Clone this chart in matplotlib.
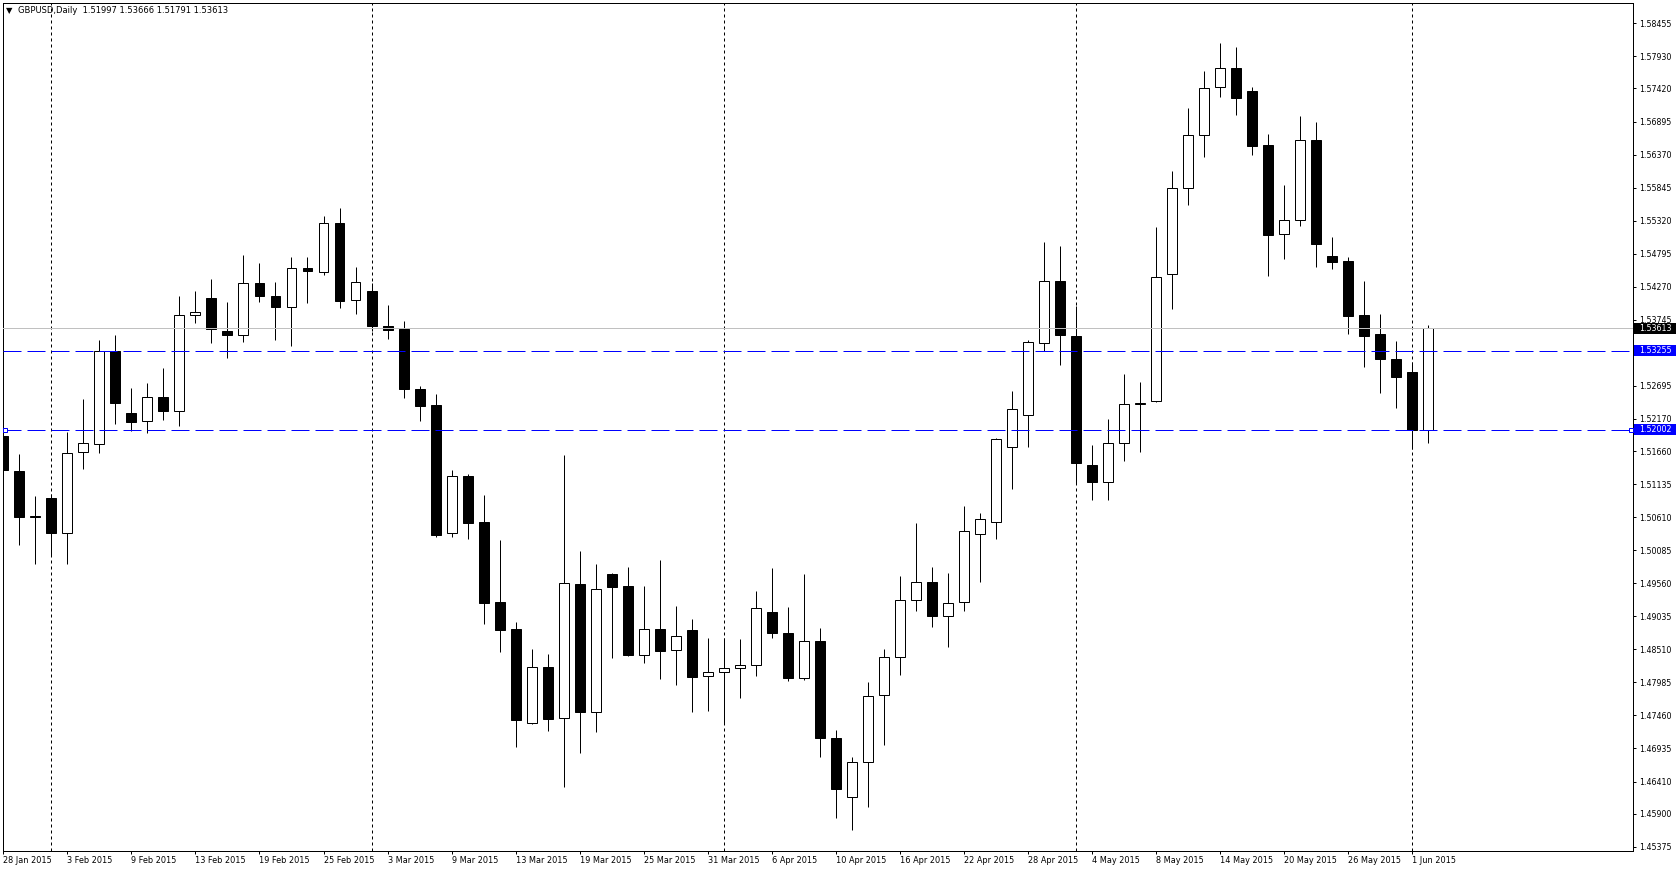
import matplotlib
matplotlib.use("Agg")
import matplotlib.pyplot as plt
import matplotlib.transforms as mtransforms
from matplotlib.patches import Rectangle
import numpy as np
import pandas as pd

# ---------------- data ----------------
dates = pd.bdate_range("2015-01-28", "2015-06-02")

opens = [1.51897, 1.51345, 1.50620, 1.50910, 1.50355, 1.51645, 1.51776, 1.53250, 1.52265, 1.52139,
         1.52518, 1.52297, 1.53825, 1.54085, 1.53575, 1.53505, 1.54330, 1.54120, 1.53955, 1.54565,
         1.54510, 1.55280, 1.54055, 1.54200, 1.53650, 1.53600, 1.52640, 1.52385, 1.50360, 1.51270,
         1.50525, 1.49260, 1.48830, 1.47345, 1.48235, 1.47420, 1.49550, 1.47515, 1.49708, 1.49518,
         1.48423, 1.48839, 1.48502, 1.48823, 1.48091, 1.48154, 1.48218, 1.48265, 1.49107, 1.48776,
         1.48050, 1.48640, 1.47105, 1.46158, 1.46715, 1.47785, 1.48390, 1.49295, 1.49580, 1.49035,
         1.49260, 1.50340, 1.50530, 1.51725, 1.52238, 1.53380, 1.54360, 1.53490, 1.51433, 1.51170,
         1.51791, 1.52415, 1.52460, 1.54480, 1.55845, 1.56685, 1.57445, 1.57750, 1.57380, 1.56530,
         1.55115, 1.55335, 1.56605, 1.54765, 1.54685, 1.53826, 1.53524, 1.53126, 1.52920, 1.51997]
highs = [1.52170, 1.51615, 1.50950, 1.50980, 1.51960, 1.52492, 1.53430, 1.53510, 1.52665, 1.52744,
         1.52981, 1.54130, 1.54210, 1.54400, 1.54020, 1.54780, 1.54655, 1.54340, 1.54740, 1.54740,
         1.55390, 1.55520, 1.54580, 1.54325, 1.53975, 1.53720, 1.52690, 1.52565, 1.51365, 1.51290,
         1.50955, 1.50250, 1.48950, 1.48515, 1.48435, 1.51590, 1.50065, 1.49865, 1.49718, 1.49818,
         1.49518, 1.49923, 1.49202, 1.48997, 1.48697, 1.48697, 1.48681, 1.49439, 1.49802, 1.49181,
         1.49705, 1.48845, 1.47225, 1.46795, 1.47985, 1.48515, 1.49675, 1.50515, 1.49815, 1.49725,
         1.50785, 1.50680, 1.51875, 1.52608, 1.53420, 1.54975, 1.54920, 1.53965, 1.51749, 1.52176,
         1.52890, 1.52750, 1.55215, 1.56115, 1.57105, 1.57690, 1.58150, 1.58085, 1.57445, 1.56690,
         1.55880, 1.56990, 1.56895, 1.55065, 1.54743, 1.54365, 1.53840, 1.53410, 1.53077, 1.53666]
lows = [1.51307, 1.50160, 1.49860, 1.49985, 1.49860, 1.51375, 1.51630, 1.52085, 1.51976, 1.51944,
        1.52160, 1.52065, 1.53690, 1.53375, 1.53135, 1.53390, 1.54025, 1.53430, 1.53325, 1.54015,
        1.54460, 1.53935, 1.53840, 1.53560, 1.53435, 1.52510, 1.52135, 1.50300, 1.50300, 1.50270,
        1.48905, 1.48475, 1.46965, 1.47330, 1.47210, 1.46320, 1.46860, 1.47195, 1.48370, 1.48402,
        1.48291, 1.48039, 1.47944, 1.47517, 1.47533, 1.47328, 1.47739, 1.48086, 1.48686, 1.48007,
        1.48030, 1.46805, 1.45835, 1.45635, 1.46000, 1.46985, 1.48100, 1.49125, 1.48860, 1.48545,
        1.49115, 1.49575, 1.50255, 1.51060, 1.51723, 1.53256, 1.53020, 1.51133, 1.50875, 1.50875,
        1.51500, 1.51644, 1.52440, 1.53920, 1.55570, 1.56333, 1.57282, 1.56998, 1.56365, 1.54445,
        1.54712, 1.55235, 1.54585, 1.54548, 1.53518, 1.52990, 1.52577, 1.52340, 1.51686, 1.51791]
closes = [1.51360, 1.50620, 1.50625, 1.50355, 1.51625, 1.51791, 1.53250, 1.52420, 1.52118, 1.52518,
          1.52292, 1.53825, 1.53870, 1.53595, 1.53500, 1.54330, 1.54120, 1.53955, 1.54565, 1.54515,
          1.55280, 1.54050, 1.54340, 1.53640, 1.53590, 1.52640, 1.52375, 1.50325, 1.51270, 1.50515,
          1.49250, 1.48820, 1.47395, 1.48230, 1.47400, 1.49560, 1.47510, 1.49465, 1.49508, 1.48418,
          1.48839, 1.48481, 1.48723, 1.48070, 1.48154, 1.48218, 1.48255, 1.49165, 1.48765, 1.48054,
          1.48640, 1.47095, 1.46285, 1.46715, 1.47765, 1.48390, 1.49295, 1.49580, 1.49045, 1.49245,
          1.50385, 1.50575, 1.51850, 1.52329, 1.53395, 1.54360, 1.53510, 1.51465, 1.51170, 1.51791,
          1.52410, 1.52425, 1.54430, 1.55845, 1.56685, 1.57430, 1.57750, 1.57268, 1.56505, 1.55095,
          1.55335, 1.56605, 1.54950, 1.54660, 1.53802, 1.53482, 1.53116, 1.52830, 1.51997, 1.53613]

x_tick_labels = ["28 Jan 2015", "3 Feb 2015", "9 Feb 2015", "13 Feb 2015", "19 Feb 2015",
                 "25 Feb 2015", "3 Mar 2015", "9 Mar 2015", "13 Mar 2015", "19 Mar 2015",
                 "25 Mar 2015", "31 Mar 2015", "6 Apr 2015", "10 Apr 2015", "16 Apr 2015",
                 "22 Apr 2015", "28 Apr 2015", "4 May 2015", "8 May 2015", "14 May 2015",
                 "20 May 2015", "26 May 2015", "1 Jun 2015"]
y_ticks = [1.58455, 1.57930, 1.57420, 1.56895, 1.56370, 1.55845, 1.55320, 1.54795, 1.54270,
           1.53745, 1.52695, 1.52170, 1.51660, 1.51135, 1.50610, 1.50085, 1.49560, 1.49035,
           1.48510, 1.47985, 1.47460, 1.46935, 1.46410, 1.45900, 1.45375]
bid_price = 1.53613
level_prices = [1.53255, 1.52002]
title_text = "GBPUSD,Daily  1.51997 1.53666 1.51791 1.53613"

# ---------------- figure ----------------
W, H = 1676, 869
PX = 0.72  # one pixel in points at dpi 100
plt.rcParams['font.family'] = ['DejaVu Sans']
fig = plt.figure(figsize=(W / 100, H / 100), dpi=100)
fig.patch.set_facecolor('white')
ax = fig.add_axes([2.5 / W, 18 / H, 1630.5 / W, 848 / H])
ax.set_facecolor('white')

x = np.arange(len(opens))
o = np.array(opens)
c = np.array(closes)
up = c >= o

ax.set_xlim(-0.05, 101.79)
ax.set_ylim(1.45306, 1.58778)

# period separators at month starts
month = dates.month
sep_idx = [i for i in range(1, len(dates)) if month[i] != month[i - 1]]
for i in sep_idx:
    ax.axvline(i, color='black', lw=PX, ls=(0, (3, 3)), zorder=1)

# candles
ax.vlines(x, lows, highs, color='black', lw=PX, zorder=2)
ax.bar(x, np.abs(c - o), bottom=np.minimum(o, c), width=0.62,
       color=np.where(up, 'white', 'black'), edgecolor='black', linewidth=PX, zorder=3)

# bid line and horizontal levels
ax.axhline(bid_price, color='#C0C0C0', lw=PX, zorder=4)
for lv in level_prices:
    ax.axhline(lv, color='#0000FF', lw=PX, ls=(0, (18, 6)), zorder=5)
ax.plot([0.125, 101.64], [level_prices[1]] * 2, ls='none', marker='s', ms=3.4,
        mfc='white', mec='#0000FF', mew=PX, zorder=6, clip_on=False)

# spines
for sp in ax.spines.values():
    sp.set_color('black')
    sp.set_linewidth(PX)

# y axis on the right
ax.yaxis.tick_right()
ax.set_yticks(y_ticks)
ax.set_yticklabels([f"{v:.5f}" for v in y_ticks])
ax.tick_params(axis='y', direction='out', length=3 * PX, width=PX, pad=3 * PX,
               labelsize=5.7, colors='black')

# x axis
ax.set_xticks(x[::4][:len(x_tick_labels)])
ax.set_xticklabels(x_tick_labels, ha='left')
ax.tick_params(axis='x', direction='out', length=3 * PX, width=PX, pad=1.5,
               labelsize=5.9, colors='black')

# price label boxes on the right
trans = mtransforms.blended_transform_factory(fig.transFigure, ax.transData)
box_h = 11 * (1.58778 - 1.45306) / 848
for price, col in [(bid_price, 'black'), (level_prices[0], '#0000FF'), (level_prices[1], '#0000FF')]:
    ax.add_patch(Rectangle((1634 / W, price - box_h / 2), (W - 1634) / W, box_h,
                           transform=trans, facecolor=col, edgecolor='none',
                           clip_on=False, zorder=10))
    ax.text(1639 / W, price, f"{price:.5f}", transform=trans, color='white',
            fontsize=5.7, va='center', ha='left', zorder=11, clip_on=False)

# title
fig.text(6 / W, 1 - 10.5 / H, "\u25BC", fontsize=6, va='center', ha='left', color='black')
fig.text(18 / W, 1 - 10.5 / H, title_text, fontsize=6.0, va='center', ha='left', color='black')

fig.savefig("out.png", dpi=100, facecolor='white')
